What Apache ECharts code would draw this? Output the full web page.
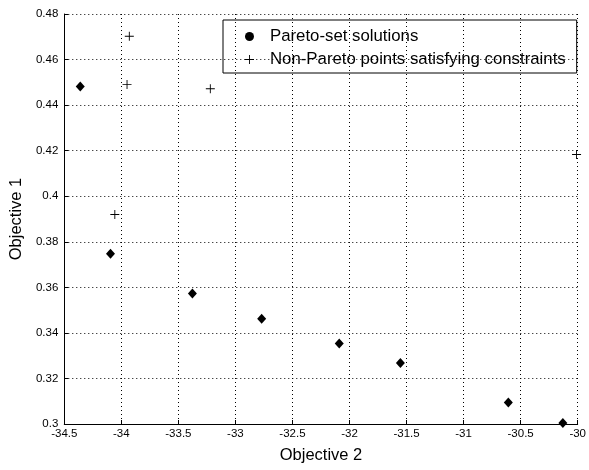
<!DOCTYPE html>
<html>
<head>
<meta charset="utf-8">
<script src="https://cdn.jsdelivr.net/npm/echarts@6/dist/echarts.min.js"></script>
<style>html,body{margin:0;padding:0;background:#fff}#c{width:589px;height:470px}</style>
</head>
<body>
<div id="c"></div>
<script>
var paretoX = [-34.36, -34.095, -33.377, -32.77, -32.09, -31.554, -30.608, -30.13];
var paretoY = [0.4482, 0.3747, 0.3573, 0.3462, 0.3353, 0.3268, 0.3094, 0.3004];
var nonParetoX = [-33.93, -33.95, -33.22, -34.057, -30.01];
var nonParetoY = [0.4702, 0.449, 0.4472, 0.392, 0.4183];
var xTicks = [-34.5, -34, -33.5, -33, -32.5, -32, -31.5, -31, -30.5, -30];
var yTicks = [0.3, 0.32, 0.34, 0.36, 0.38, 0.4, 0.42, 0.44, 0.46, 0.48];

function zip(a, b) { return a.map(function (v, i) { return [v, b[i]]; }); }
var plusPath = 'path://M4.5,0h1v4.5h4.5v1h-4.5v4.5h-1v-4.5h-4.5v-1h4.5z';
var font = 'Liberation Sans, Arial, sans-serif';

var chart = echarts.init(document.getElementById('c'));
var gridLine = { show: true, lineStyle: { color: '#000', width: 1, type: [1, 3] } };
chart.setOption({
  animation: false,
  backgroundColor: '#fff',
  grid: { left: 63, right: 6, top: 14, bottom: 46 },
  legend: {
    left: 223, top: 20, orient: 'vertical',
    borderColor: '#000', borderWidth: 1,
    padding: [8, 11, 5, 22],
    itemWidth: 9, itemHeight: 9, itemGap: 6,
    textStyle: { fontFamily: font, fontSize: 16.8, color: '#000', padding: [0, 0, 0, 11] },
    data: [
      { name: 'Pareto-set solutions', icon: 'circle', itemStyle: { color: '#000', opacity: 1 } },
      { name: 'Non-Pareto points satisfying constraints', icon: plusPath, itemStyle: { color: '#000', opacity: 1 } }
    ]
  },
  xAxis: [{
    type: 'value', min: -34.5, max: -30, interval: 0.5,
    name: 'Objective 2', nameLocation: 'middle', nameGap: 23,
    nameTextStyle: { fontFamily: font, fontSize: 16.5, color: '#000' },
    axisLine: { lineStyle: { color: '#000' } },
    axisTick: { inside: true, length: 4, lineStyle: { color: '#000' } },
    axisLabel: { fontFamily: font, fontSize: 11.5, color: '#000', margin: 4,
      formatter: function (v) { return String(Math.round(v * 10) / 10); } },
    splitLine: gridLine
  }],
  yAxis: [{
    type: 'value', min: 0.3, max: 0.48, interval: 0.02,
    name: 'Objective 1', nameLocation: 'middle', nameGap: 37,
    nameTextStyle: { fontFamily: font, fontSize: 16.5, color: '#000' },
    axisLine: { show: true, lineStyle: { color: '#000' } },
    axisTick: { show: true, inside: true, length: 4, lineStyle: { color: '#000' } },
    axisLabel: { fontFamily: font, fontSize: 11.5, color: '#000', margin: 6,
      formatter: function (v) { return String(Math.round(v * 100) / 100); } },
    splitLine: gridLine
  }],
  series: [
    { name: 'Pareto-set solutions', type: 'scatter', symbol: 'diamond', symbolSize: [9, 10],
      itemStyle: { color: '#000', opacity: 1 }, data: zip(paretoX, paretoY) },
    { name: 'Non-Pareto points satisfying constraints', type: 'scatter', symbol: plusPath, symbolSize: 9,
      itemStyle: { color: '#000', opacity: 1 }, data: zip(nonParetoX, nonParetoY) }
  ]
});
</script>
</body>
</html>
